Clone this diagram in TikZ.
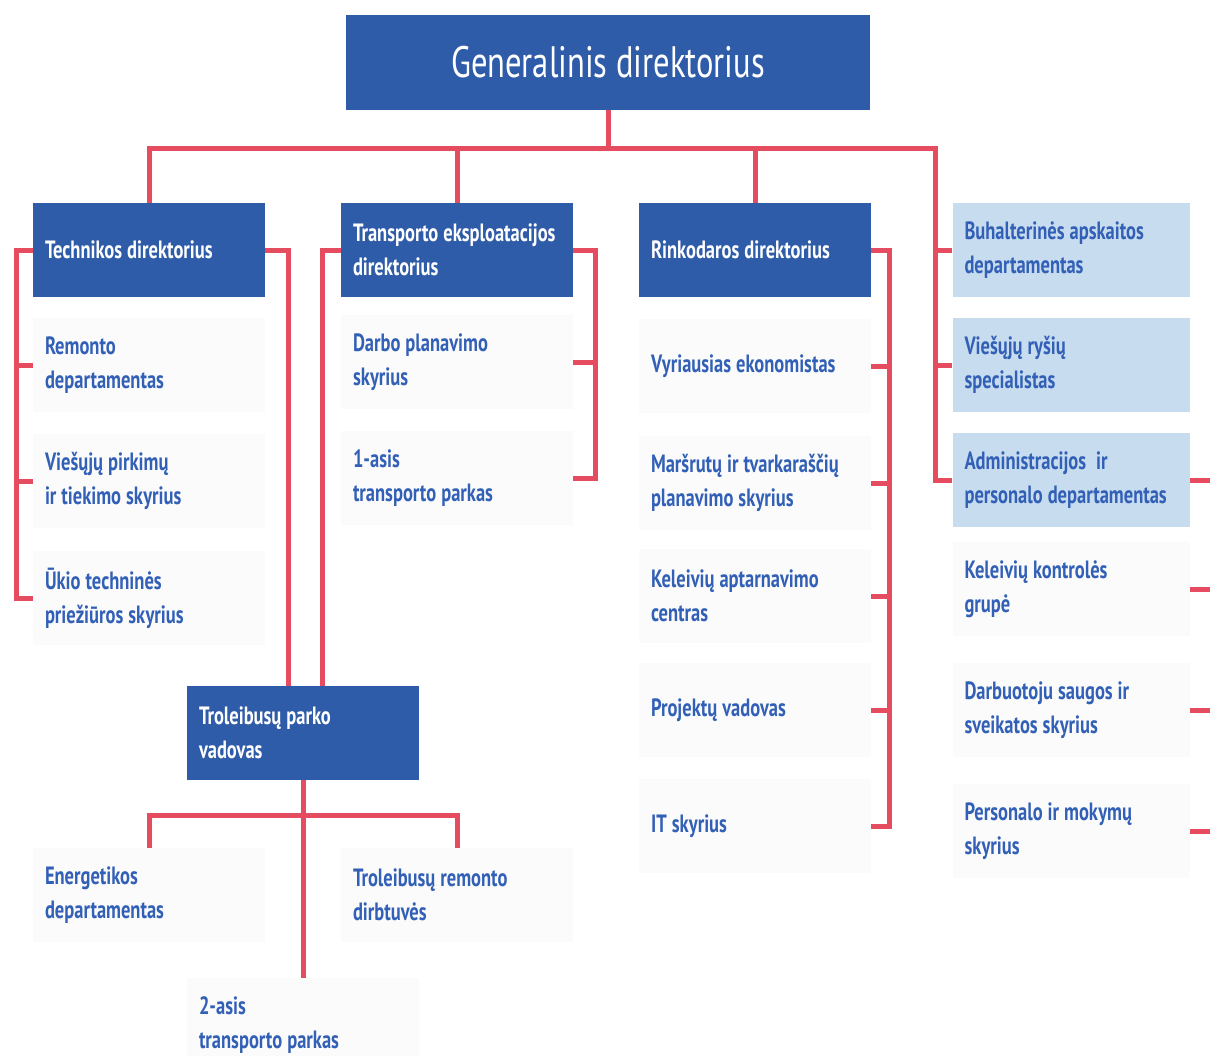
\documentclass[tikz,border=0pt]{standalone}
\usepackage{fontspec}
\setmainfont{PT Sans}[FakeStretch=0.74]
\newcommand\narrowspace{\spaceskip=5pt plus 1pt minus 1pt\relax}
\definecolor{dirblue}{RGB}{47,92,168}
\definecolor{subblue}{RGB}{200,220,240}
\definecolor{txtblue}{RGB}{50,96,182}
\definecolor{linkred}{RGB}{230,76,96}
\tikzset{
  link/.style={draw=linkred, line width=5pt},
  dirbox/.style={fill=dirblue, text=white, minimum height=94pt, text width=208pt,
    inner xsep=12pt, align=flush left,
    font=\fontsize{25}{34}\selectfont\bfseries\narrowspace},
  subbox/.style={dirbox, fill=subblue, text=txtblue, text width=213pt},
  unit/.style={dirbox, fill=black!1.5, text=txtblue},
  subunit/.style={subbox, fill=black!1.5}
}
\begin{document}
\begin{tikzpicture}[x=1pt,y=-1pt]
  \useasboundingbox[fill=white] (0,0) rectangle (1210,1055);
  \node[fill=dirblue, text=white, minimum width=524pt, minimum height=95pt,
    font=\fontsize{44}{50}\selectfont] (gen) at (608,62) {Generalinis direktorius};
  \node[dirbox] (tech) at (149,250) {Technikos direktorius};
  \node[dirbox] (trans) at (457,250) {Transporto eksploatacijos\\direktorius};
  \node[dirbox] (rink) at (755,250) {Rinkodaros direktorius};
  \node[subbox] (buh) at (1071,250) {Buhalterinės apskaitos\\departamentas};
  \node[subbox] (vrs) at (1071,365) {Viešųjų ryšių\\specialistas};
  \node[subbox] (adm) at (1071,480) {Administracijos\ \ ir\\personalo departamentas};
  \node[unit] (rem) at (149,365) {Remonto\\departamentas};
  \node[unit] (pirk) at (149,481) {Viešųjų pirkimų\\ir tiekimo skyrius};
  \node[unit] (ukio) at (149,598) {Ūkio techninės\\priežiūros skyrius};
  \node[unit] (darbo) at (457,362) {Darbo planavimo\\skyrius};
  \node[unit] (park1) at (457,478) {1-asis\\transporto parkas};
  \node[unit] (vyr) at (755,366) {Vyriausias ekonomistas};
  \node[unit] (mars) at (755,483) {Maršrutų ir tvarkaraščių\\planavimo skyrius};
  \node[unit] (kelc) at (755,596) {Keleivių aptarnavimo\\centras};
  \node[unit] (proj) at (755,710) {Projektų vadovas};
  \node[unit] (it) at (755,826) {IT skyrius};
  \node[subunit] (kontr) at (1071,589) {Keleivių kontrolės\\grupė};
  \node[subunit] (saug) at (1071,710) {Darbuotoju saugos ir\\sveikatos skyrius};
  \node[subunit] (mok) at (1071,831) {Personalo ir mokymų\\skyrius};
  \node[dirbox] (trol) at (303,733) {Troleibusų parko\\vadovas};
  \node[unit] (ener) at (149,895) {Energetikos\\departamentas};
  \node[unit] (remd) at (457,895) {Troleibusų remonto\\dirbtuvės};
  \node[unit] (park2) at (303,1025) {2-asis\\transporto parkas};
  \coordinate (rtrunk) at (935,148);
  \coordinate (tl) at (16,0);
  \coordinate (tr) at (595,0);
  \coordinate (rr) at (889,0);
  \coordinate (edge) at (1214,0);
  \coordinate (lbus) at (303,815);
  \draw[link] (gen.south) -- (gen.south |- rtrunk);
  \draw[link] (tech.north) |- (rtrunk) |- (adm.west);
  \draw[link] (trans.north) -- (trans.north |- rtrunk);
  \draw[link] (rink.north) -- (rink.north |- rtrunk);
  \draw[link] (buh.west) -- (buh.west -| rtrunk);
  \draw[link] (vrs.west) -- (vrs.west -| rtrunk);
  \draw[link] (tech.west) -- (tech.west -| tl) |- (ukio.west);
  \draw[link] (rem.west) -- (rem.west -| tl);
  \draw[link] (pirk.west) -- (pirk.west -| tl);
  \draw[link] (tech.east) -| ([xshift=-15pt]trol.north);
  \draw[link] (trans.west) -| ([xshift=19pt]trol.north);
  \draw[link] (trans.east) -- (trans.east -| tr) |- (park1.east);
  \draw[link] (darbo.east) -- (darbo.east -| tr);
  \draw[link] (rink.east) -- (rink.east -| rr) |- (it.east);
  \draw[link] (vyr.east) -- (vyr.east -| rr);
  \draw[link] (mars.east) -- (mars.east -| rr);
  \draw[link] (kelc.east) -- (kelc.east -| rr);
  \draw[link] (proj.east) -- (proj.east -| rr);
  \draw[link] (adm.east) -- (adm.east -| edge);
  \draw[link] (kontr.east) -- (kontr.east -| edge);
  \draw[link] (saug.east) -- (saug.east -| edge);
  \draw[link] (mok.east) -- (mok.east -| edge);
  \draw[link] (trol.south) -- (park2.north);
  \draw[link] (ener.north) |- (lbus) -| (remd.north);
\end{tikzpicture}
\end{document}
